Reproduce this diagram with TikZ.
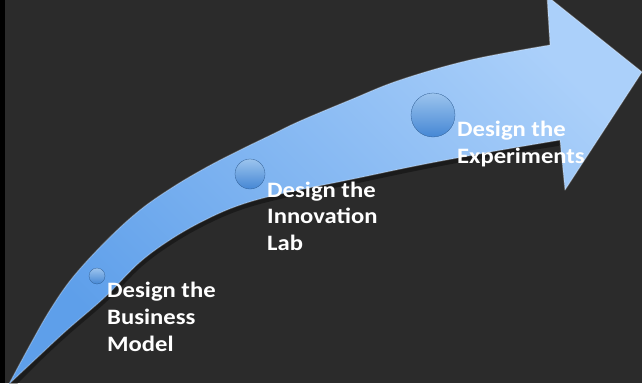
\documentclass[tikz,border=0pt]{standalone}
\usepackage{fontspec}
\setmainfont{Carlito}
\newfontfamily\lblfont{Carlito}[FakeStretch=1.12]
\definecolor{bg}{HTML}{2B2B2B}
\definecolor{arrowdark}{HTML}{5E9FEA}
\definecolor{arrowlight}{HTML}{ABD0FA}
\definecolor{dottop}{HTML}{9CC4EE}
\definecolor{dotbottom}{HTML}{4587D4}
\tikzset{
  arrowbody/.style={top color=arrowdark, bottom color=arrowlight, shading angle=135},
  bevel/.style={draw=white, draw opacity=0.25, line width=1.2pt, line join=round},
  dot/.style={circle, inner sep=0pt, top color=dottop, bottom color=dotbottom, draw=dotbottom!70!black, line width=0.3pt},
  lbl/.style={anchor=base west, align=left, inner sep=0pt, text=white,
    font=\lblfont\fontsize{22}{26.7}\selectfont\bfseries}
}
\begin{document}
\begin{tikzpicture}[x=1pt,y=-1pt]
\useasboundingbox (0,0) rectangle (642,383);
\fill[bg] (0,0) rectangle (642,383);
\fill[black] (0,0) rectangle (5,383);
% soft shadow under the lower edge
\begin{scope}[transparency group, opacity=0.35]
\draw[black, line width=6pt, line cap=round] plot[smooth,tension=0.6] coordinates {(12,385) (40,357) (67,332) (105,299) (140,264) (173,240) (207,221) (240,207) (280,196) (353,181) (420,167) (490,154) (558,143)};
\end{scope}
\path[arrowbody, bevel] plot[smooth,tension=0.6] coordinates {(9,384) (30,345) (50,310) (73,277) (107,240) (140,210) (173,187) (207,167) (240,150) (273,134) (300,121) (350,100) (400,80) (470,60) (550,45)}
  -- (547,-4) -- (642,72) -- (565,190) -- (560,140)
  -- plot[smooth,tension=0.6] coordinates {(560,140) (490,152) (420,165) (353,179) (280,194) (240,205) (207,219) (173,238) (140,262) (105,297) (67,330) (40,355) (9,384)} -- cycle;
\node[dot, minimum size=16pt] (c1) at (97,276) {};
\node[dot, minimum size=30pt] (c2) at (250,174) {};
\node[dot, minimum size=44pt] (c3) at (433,115) {};
\node[lbl] (t1) at (107,351) {Design the\\Business\\Model};
\node[lbl] (t2) at (267,250.5) {Design the\\Innovation\\Lab};
\node[lbl] (t3) at (457,163) {Design the\\Experiments};
\end{tikzpicture}
\end{document}
